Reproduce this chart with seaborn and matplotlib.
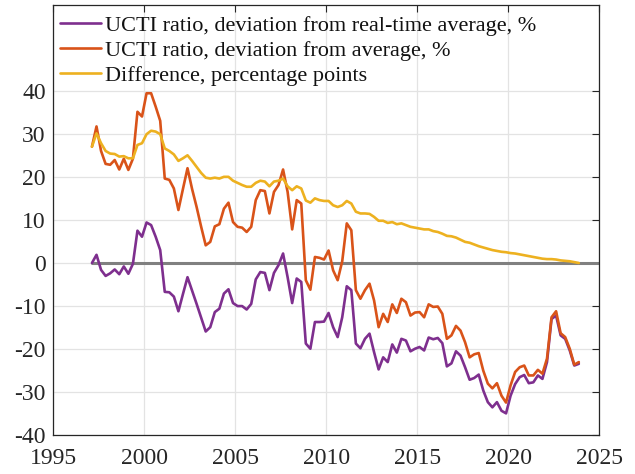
import numpy as np
import pandas as pd
import matplotlib
matplotlib.use("Agg")
import matplotlib.pyplot as plt
import seaborn as sns

# Quarterly observations, 1997Q1 - 2023Q4
years = np.repeat(np.arange(1997, 2024), 4)
quarters = np.tile(np.arange(1, 5), 2024 - 1997)

dev_realtime = [
    0.0, 1.9, -1.6, -3.0, -2.4, -1.5, -2.6, -0.8, -2.5, -0.2,
    7.5, 6.1, 9.4, 8.8, 6.1, 3.0, -6.7, -6.8, -7.8, -11.2,
    -7.2, -3.3, -6.4, -9.5, -12.7, -15.9, -14.9, -11.4, -10.6, -7.1,
    -6.1, -9.3, -10.0, -10.0, -10.8, -9.5, -3.8, -2.1, -2.3, -6.3,
    -2.3, -0.5, 2.2, -3.3, -9.3, -3.6, -4.4, -18.7, -19.9, -13.7,
    -13.7, -13.6, -11.6, -14.9, -17.2, -12.6, -5.4, -6.3, -18.7, -19.8,
    -17.6, -16.4, -20.7, -24.7, -21.9, -23.0, -18.9, -20.8, -17.6, -18.0,
    -20.5, -19.9, -19.5, -20.3, -17.3, -17.7, -17.4, -18.6, -24.0, -23.3,
    -20.5, -21.5, -24.2, -27.1, -26.7, -25.9, -29.6, -32.3, -33.5, -32.3,
    -34.3, -34.9, -30.8, -28.1, -26.5, -26.0, -27.9, -27.7, -26.1, -26.9,
    -23.0, -13.0, -12.2, -16.8, -17.6, -20.3, -23.8, -23.4,
]

dev_average = [
    27.0, 31.7, 26.0, 23.0, 22.8, 23.9, 21.7, 24.2, 21.6, 24.2,
    35.1, 34.0, 39.4, 39.4, 36.3, 33.0, 19.6, 19.3, 17.3, 12.3,
    17.2, 22.0, 17.2, 13.0, 8.4, 4.1, 4.9, 8.5, 9.0, 12.6,
    14.0, 9.5, 8.4, 8.2, 7.2, 8.4, 14.6, 16.9, 16.7, 11.5,
    16.5, 18.1, 21.7, 16.5, 7.8, 14.6, 13.8, -4.0, -6.2, 1.4,
    1.2, 0.8, 2.9, -1.7, -4.0, 0.4, 9.2, 7.6, -6.3, -8.3,
    -6.3, -4.8, -8.7, -14.9, -11.8, -13.7, -9.6, -11.6, -8.3, -9.1,
    -12.2, -11.5, -11.4, -12.6, -9.6, -10.2, -10.1, -11.8, -17.6, -16.8,
    -14.6, -15.7, -18.4, -21.9, -21.2, -20.9, -25.0, -28.0, -29.1, -27.9,
    -30.8, -32.4, -28.4, -25.3, -24.2, -23.8, -26.1, -26.1, -24.8, -25.7,
    -22.2, -12.6, -11.2, -16.3, -17.2, -19.9, -23.6, -23.0,
]

difference = [
    27.0, 30.1, 27.8, 26.0, 25.4, 25.3, 24.7, 24.8, 24.3, 24.3,
    27.4, 27.8, 29.9, 30.7, 30.5, 29.9, 26.6, 26.0, 25.2, 23.7,
    24.3, 25.0, 23.7, 22.3, 20.9, 19.8, 19.6, 19.8, 19.6, 20.0,
    20.0, 19.1, 18.6, 18.1, 17.7, 17.7, 18.6, 19.1, 18.9, 17.8,
    18.9, 19.1, 19.6, 17.8, 16.9, 17.8, 17.3, 14.5, 14.0, 15.0,
    14.6, 14.4, 14.4, 13.4, 13.0, 13.4, 14.4, 13.8, 11.9, 11.5,
    11.5, 11.4, 10.7, 9.8, 9.8, 9.3, 9.5, 9.0, 9.2, 8.8,
    8.4, 8.2, 8.0, 7.8, 7.8, 7.4, 7.2, 6.8, 6.3, 6.2,
    5.9, 5.4, 4.9, 4.7, 4.3, 3.9, 3.6, 3.3, 3.0, 2.8,
    2.6, 2.5, 2.3, 2.2, 2.0, 1.8, 1.6, 1.4, 1.2, 1.0,
    0.9, 0.9, 0.8, 0.6, 0.5, 0.4, 0.2, 0.0,
]

labels = [
    "UCTI ratio, deviation from real-time average, %",
    "UCTI ratio, deviation from average, %",
    "Difference, percentage points",
]
colors = ["#7E2F8E", "#D95319", "#EDB120"]

x_ticks = [1995, 2000, 2005, 2010, 2015, 2020, 2025]
y_ticks = [-40, -30, -20, -10, 0, 10, 20, 30, 40]

# quarter mid-points on a decimal-year axis
t = years + (quarters - 0.5) / 4.0

df = pd.DataFrame({
    "t": np.concatenate([t, t, t]),
    "value": np.concatenate([dev_realtime, dev_average, difference]),
    "series": np.repeat(labels, len(t)),
})

sns.set_theme(style="white")
plt.rcParams["font.family"] = ["Liberation Serif", "DejaVu Serif"]
plt.rcParams["axes.unicode_minus"] = False

fig = plt.figure(figsize=(6.35, 4.74), dpi=100)
ax = fig.add_axes([0.0839, 0.0816, 0.8599, 0.9089])

ax.grid(True, color="#e3e3e3", linewidth=0.9, zorder=0)
ax.set_axisbelow(True)

# zero reference line
ax.plot([t[0], 2025], [0, 0], color="#808080", linewidth=2.2, zorder=1)

sns.lineplot(data=df, x="t", y="value", hue="series", hue_order=labels,
             palette=colors, linewidth=1.9, ax=ax, zorder=2)

ax.set_xlim(1995, 2025)
ax.set_ylim(-40, 60)
ax.set_xticks(x_ticks)
ax.set_yticks(y_ticks)
ax.set_xlabel("")
ax.set_ylabel("")
ax.tick_params(axis="both", which="both", direction="in", length=5,
               width=0.8, color="#262626", labelsize=17, labelcolor="#262626",
               top=True, right=True)
ax.tick_params(axis="x", pad=9)
ax.tick_params(axis="y", pad=5.5)
for s in ax.spines.values():
    s.set_visible(True)
    s.set_color("#262626")
    s.set_linewidth(0.9)

leg = ax.legend(loc="upper left", bbox_to_anchor=(-0.012, 1.005), frameon=False,
                fontsize=16, handlelength=1.85, handletextpad=0.15,
                labelspacing=0.2, borderaxespad=0.2)
for line in leg.get_lines():
    line.set_linewidth(1.9)
for txt in leg.get_texts():
    txt.set_color("#111111")

fig.savefig("out.png", dpi=100)
